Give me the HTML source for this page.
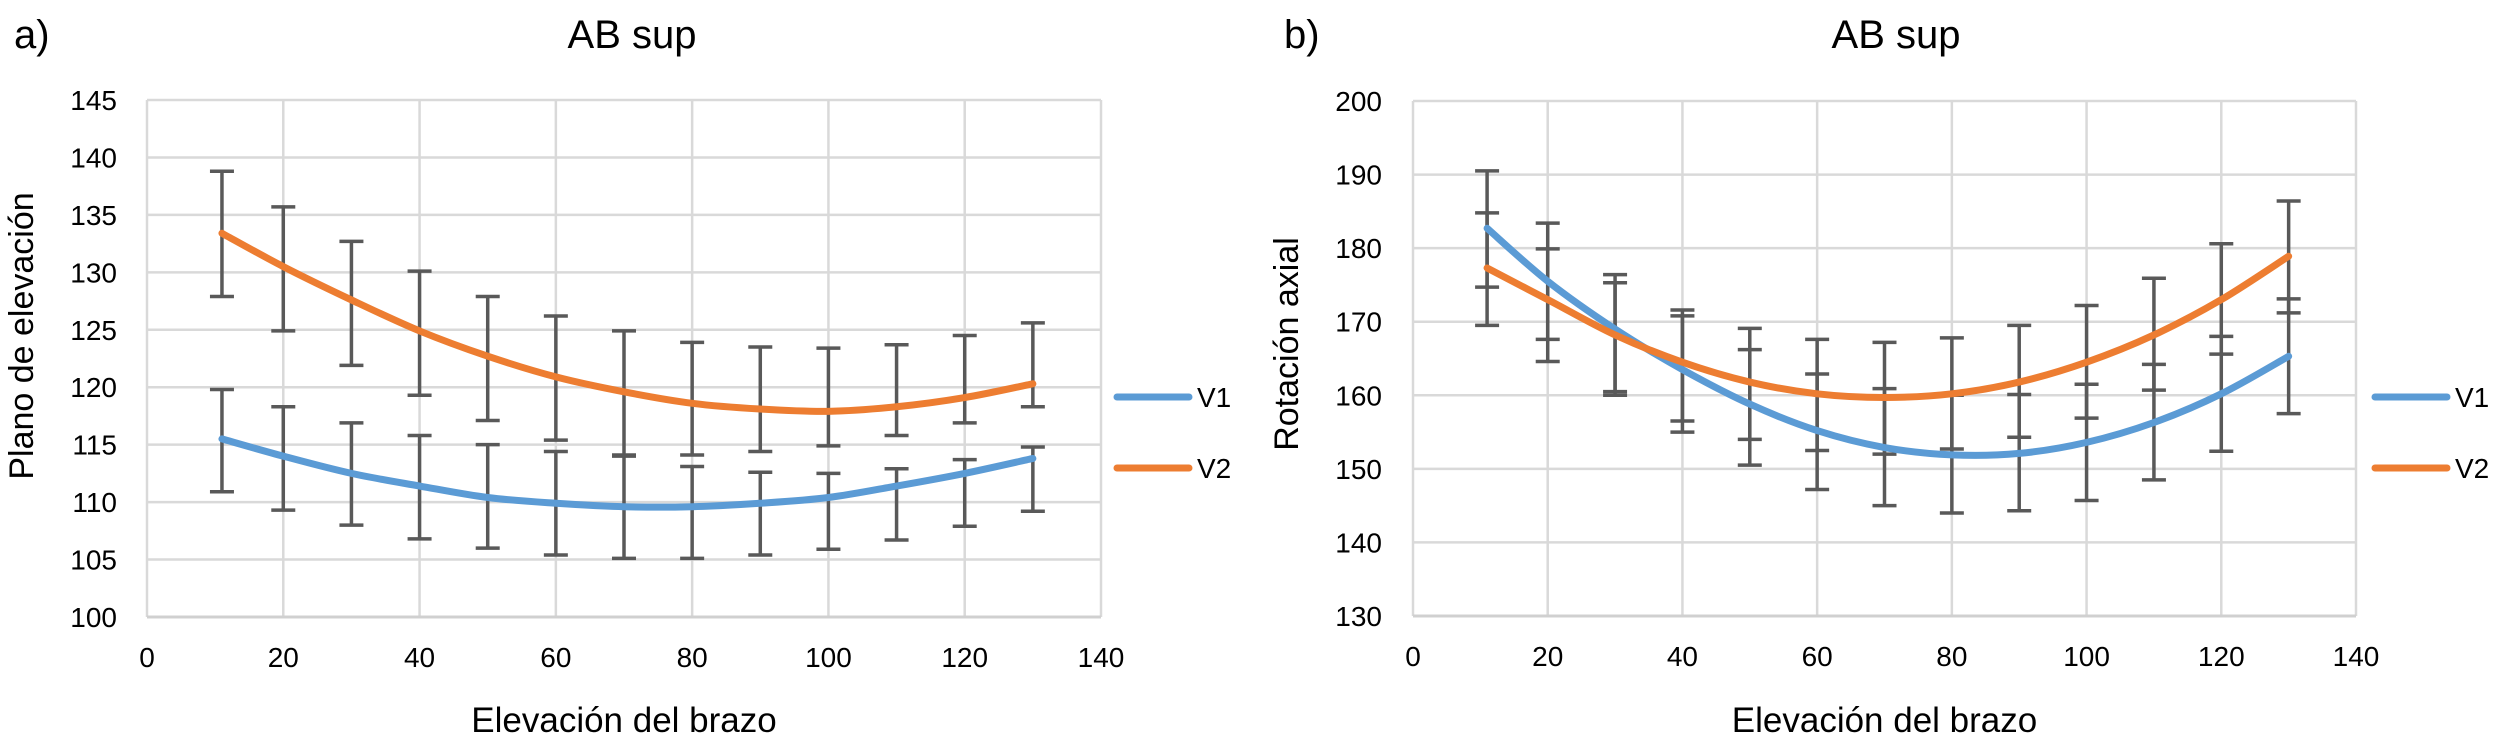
<!DOCTYPE html>
<html><head><meta charset="utf-8">
<style>
html,body{margin:0;padding:0;background:#fff;}
svg{display:block;}
text{font-family:"Liberation Sans Narrow","Liberation Sans",sans-serif;fill:#000;}
</style></head>
<body>
<svg id="fig" width="2507" height="752" viewBox="0 0 2507 752" xmlns="http://www.w3.org/2000/svg"></svg>
<script>
// ---- shared data ----
const xValues = [11,20,30,40,50,60,70,80,90,100,110,120,130];
const xTicks = [0,20,40,60,80,100,120,140];
const seriesNames = ["V1","V2"];

// ---- chart a ----
const aYTicks = [100,105,110,115,120,125,130,135,140,145];
const aV1 = [115.5,114.0,112.5,111.4,110.4,109.9,109.6,109.6,109.9,110.4,111.4,112.5,113.8];
const aV1High = [119.8,118.3,116.9,115.8,115.0,114.4,114.1,113.1,112.6,112.5,112.9,113.7,114.8];
const aV1Low = [110.9,109.3,108.0,106.8,106.0,105.4,105.1,105.1,105.4,105.9,106.7,107.9,109.2];
const aV2 = [133.4,130.5,127.6,124.9,122.7,120.9,119.6,118.6,118.1,117.9,118.3,119.1,120.3];
const aV2High = [138.8,135.7,132.7,130.1,127.9,126.2,124.9,123.9,123.5,123.4,123.7,124.5,125.6];
const aV2Low = [127.9,124.9,121.9,119.3,117.1,115.4,114.0,114.1,114.4,114.9,115.8,116.9,118.3];

// ---- chart b ----
const bYTicks = [130,140,150,160,170,180,190,200];
const bV1 = [182.7,175.5,169.0,163.5,158.8,155.2,152.9,151.9,152.1,153.6,156.3,160.2,165.3];
const bV1High = [190.5,183.4,176.4,171.6,166.2,162.9,160.9,160.0,160.1,161.5,164.2,168.0,173.1];
const bV1Low = [174.7,167.6,160.5,156.5,150.5,147.2,145.0,144.0,144.3,145.7,148.5,152.4,157.5];
const bV2 = [177.3,173.0,168.2,164.5,161.8,160.2,159.7,160.2,161.8,164.5,168.2,173.0,178.9];
const bV2High = [184.8,179.9,175.3,170.8,169.1,167.6,167.2,167.8,169.5,172.2,175.9,180.6,186.4];
const bV2Low = [169.5,164.6,160.0,155.0,154.0,152.5,152.0,152.7,154.3,156.9,160.7,165.6,171.2];

const NS="http://www.w3.org/2000/svg";
const svg=document.getElementById('fig');
function mk(tag,attrs,parent){const e=document.createElementNS(NS,tag);for(const k in attrs)e.setAttribute(k,attrs[k]);(parent||svg).appendChild(e);return e;}
function txt(s,attrs,parent){const e=mk('text',attrs,parent);e.textContent=s;return e;}
const colors=["#5b9bd5","#ed7d31"];

function smoothPath(pts){
  let d="M"+pts[0][0]+","+pts[0][1];
  for(let i=0;i<pts.length-1;i++){
    const p0=pts[Math.max(i-1,0)],p1=pts[i],p2=pts[i+1],p3=pts[Math.min(i+2,pts.length-1)];
    const c1x=p1[0]+(p2[0]-p0[0])/6,c1y=p1[1]+(p2[1]-p0[1])/6;
    const c2x=p2[0]-(p3[0]-p1[0])/6,c2y=p2[1]-(p3[1]-p1[1])/6;
    d+=" C"+c1x+","+c1y+" "+c2x+","+c2y+" "+p2[0]+","+p2[1];
  }
  return d;
}

function chart(cfg){
  const g=mk('g',{});
  
  
  const yMin=cfg.yTicks[0],yMax=cfg.yTicks[cfg.yTicks.length-1];
  const X=v=>cfg.x0+(v-0)/(140-0)*(cfg.x1-cfg.x0);
  const Y=v=>cfg.yb+(v-yMin)/(yMax-yMin)*(cfg.yt-cfg.yb);
  const grid=mk('g',{},g);
  
  
  xTicks.forEach(t=>{mk('line',{x1:X(t),x2:X(t),y1:cfg.yt,y2:cfg.yb,stroke:'#d9d9d9','stroke-width':2.5},grid);});
  cfg.yTicks.forEach(t=>{mk('line',{x1:cfg.x0,x2:cfg.x1,y1:Y(t),y2:Y(t),stroke:(t===yMin?'#d0d0d0':'#d9d9d9'),'stroke-width':(t===yMin?3:2.5)},grid);});
  cfg.yTicks.forEach(t=>{const e=txt(String(t),{x:cfg.yLabelX,y:Y(t)+10,'text-anchor':'end','font-size':28},g);
    });
  xTicks.forEach(t=>{const e=txt(String(t),{x:X(t),y:cfg.yb+50,'text-anchor':'middle','font-size':28},g);
    });
  cfg.series.forEach((s,si)=>{
    const sg=mk('g',{},g);
    
    
    xValues.forEach((xv,i)=>{
      const eb=mk('g',{stroke:'#595959','stroke-width':3.5},sg);
      
      
      const cx=X(xv),yh=Y(s.high[i]),yl=Y(s.low[i]);
      mk('line',{x1:cx,x2:cx,y1:yh,y2:yl},eb);
      mk('line',{x1:cx-12,x2:cx+12,y1:yh,y2:yh},eb);
      mk('line',{x1:cx-12,x2:cx+12,y1:yl,y2:yl},eb);
    });
  });
  cfg.series.forEach((s,si)=>{
    const pts=xValues.map((xv,i)=>[X(xv),Y(s.mean[i])]);
    const p=mk('path',{d:smoothPath(pts),fill:'none',stroke:colors[si],'stroke-width':7,'stroke-linecap':'round'},g);
    
    
  });
  seriesNames.forEach((n,i)=>{
    const lg=mk('g',{},g);
    
    
    const ly=397+i*71;
    mk('line',{x1:cfg.legX,x2:cfg.legX+72,y1:ly,y2:ly,stroke:colors[i],'stroke-width':7,'stroke-linecap':'round'},lg);
    txt(n,{x:cfg.legX+80,y:ly+10,'font-size':28},lg);
  });
  let e=txt("AB sup",{x:cfg.titleX,y:48,'text-anchor':'middle','font-size':40},g);
  
  e=txt(cfg.panel,{x:cfg.panelX,y:48,'font-size':40},g);
  
  e=txt("Elevación del brazo",{x:(cfg.x0+cfg.x1)/2,y:732,'text-anchor':'middle','font-size':35},g);
  
  e=txt(cfg.yTitle,{x:0,y:0,'text-anchor':'middle','font-size':34,transform:'translate('+cfg.yTitleX+','+cfg.yTitleY+') rotate(-90)'},g);
  
}

chart({name:'chart-a',panel:'a)',panelX:14,titleX:632,x0:147,x1:1101,yt:100,yb:617,yTicks:aYTicks,yLabelX:117,
  legX:1117,yTitle:'Plano de elevación',yTitleX:33,yTitleY:336,
  series:[{mean:aV1,high:aV1High,low:aV1Low},{mean:aV2,high:aV2High,low:aV2Low}]});
chart({name:'chart-b',panel:'b)',panelX:1284,titleX:1896,x0:1413,x1:2356,yt:101,yb:616,yTicks:bYTicks,yLabelX:1382,
  legX:2375,yTitle:'Rotación axial',yTitleX:1298,yTitleY:344,
  series:[{mean:bV1,high:bV1High,low:bV1Low},{mean:bV2,high:bV2High,low:bV2Low}]});
</script>
</body></html>
